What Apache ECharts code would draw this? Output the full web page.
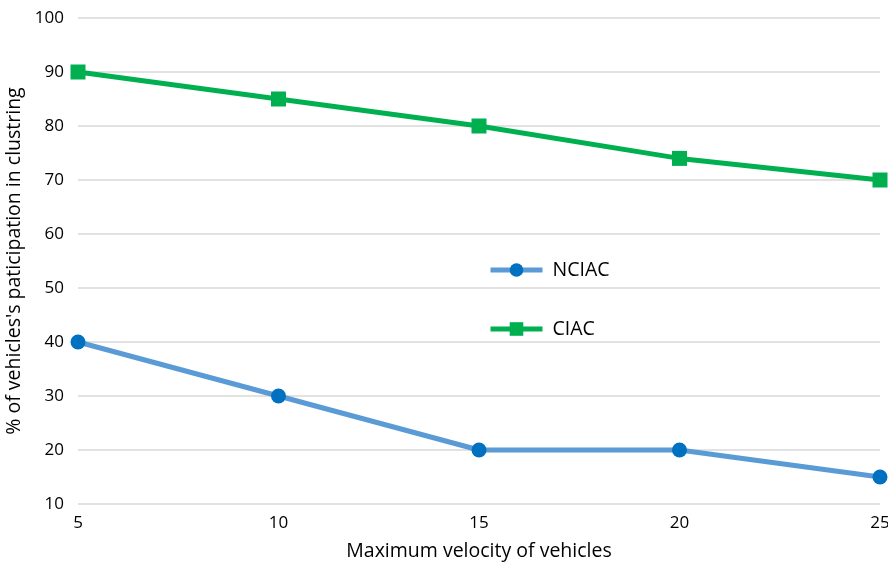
<!DOCTYPE html>
<html>
<head>
<meta charset="utf-8">
<script src="https://cdn.jsdelivr.net/npm/echarts@6/dist/echarts.min.js"></script>
<style>
html, body { margin: 0; padding: 0; background: #fff; }
#chart { width: 888px; height: 565px; }
</style>
</head>
<body>
<div id="chart"></div>
<script>
const velocities = [5, 10, 15, 20, 25];
const nciac = [40, 30, 20, 20, 15];
const ciac = [90, 85, 80, 74, 70];

const font = '"Open Sans", Lato, sans-serif';
const chart = echarts.init(document.getElementById('chart'));
chart.setOption({
  animation: false,
  grid: { left: 78, right: 8, top: 18, bottom: 61, outerBoundsMode: 'none', containLabel: false },
  legend: {
    orient: 'vertical',
    left: 483,
    top: 255,
    itemGap: 39,
    itemWidth: 52,
    itemHeight: 17,
    lineStyle: { width: 5 },
    textStyle: { fontFamily: font, fontSize: 19.5, lineHeight: 20, color: '#000', padding: [0, 0, 0, 5] },
    data: ['NCIAC', 'CIAC']
  },
  xAxis: {
    type: 'value',
    min: 5, max: 25, interval: 5,
    name: 'Maximum velocity of vehicles',
    nameLocation: 'middle',
    nameGap: 37,
    nameTextStyle: { fontFamily: font, fontSize: 19.5, color: '#000' },
    axisLine: { show: false },
    axisTick: { show: false },
    splitLine: { show: false },
    axisLabel: { fontFamily: font, fontSize: 17, color: '#000', margin: 11 }
  },
  yAxis: {
    type: 'value',
    min: 10, max: 100, interval: 10,
    name: "% of vehicles's paticipation in clustring",
    nameLocation: 'middle',
    nameGap: 50,
    nameTextStyle: { fontFamily: font, fontSize: 19.5, color: '#000' },
    axisLine: { show: false },
    axisTick: { show: false },
    splitLine: { lineStyle: { color: '#d9d9d9', width: 1.5 } },
    axisLabel: { fontFamily: font, fontSize: 17, color: '#000', margin: 14 }
  },
  series: [
    {
      name: 'NCIAC',
      type: 'line',
      data: velocities.map((v, i) => [v, nciac[i]]),
      symbol: 'circle',
      symbolSize: 15,
      lineStyle: { color: '#5b9bd5', width: 5 },
      itemStyle: { color: '#0070c0' },
      color: '#5b9bd5'
    },
    {
      name: 'CIAC',
      type: 'line',
      data: velocities.map((v, i) => [v, ciac[i]]),
      symbol: 'rect',
      symbolSize: 15,
      lineStyle: { color: '#00b050', width: 5 },
      itemStyle: { color: '#00b050' },
      color: '#00b050'
    }
  ]
});
</script>
</body>
</html>
